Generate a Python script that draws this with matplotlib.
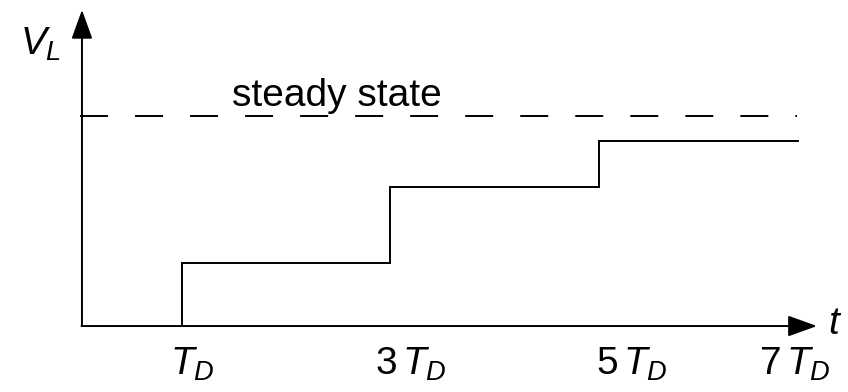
import matplotlib
matplotlib.use('Agg')
import matplotlib.pyplot as plt

plt.rcParams['font.family'] = ['Liberation Sans', 'DejaVu Sans']
plt.rcParams['mathtext.fontset'] = 'custom'
plt.rcParams['mathtext.rm'] = 'Liberation Sans'
plt.rcParams['mathtext.it'] = 'Liberation Sans:italic'

# step response of V_L, time in units of T_D, voltage relative to steady state
step_t = [1, 1, 3, 5, 6.91]
step_v = [0, 0.30, 0.66, 0.88, 0.88]
steady_v = 1.0
tick_pos = [1, 3, 5, 7]
tick_labels = ['$T_D$', r'$3\,T_D$', r'$5\,T_D$', r'$7\,T_D$']
label_nudge = [0.1, 0.2, 0.32, -0.12]

LW = 1.4
FS = 28

fig = plt.figure(figsize=(8.48, 3.92), dpi=100)
ax = fig.add_axes([0, 0, 1, 1])
ax.set_xlim(-0.7466, 7.392)
ax.set_ylim(-0.314, 1.552)
ax.axis('off')

x0 = 0.04
arrow = dict(arrowstyle='-|>,head_length=1.8,head_width=0.65', mutation_scale=10,
             lw=LW, color='black', shrinkA=0, shrinkB=0)
ax.annotate('', xy=(x0, 1.505), xytext=(x0, 0), arrowprops=arrow)
ax.annotate('', xy=(7.094, 0), xytext=(x0 - 0.005, 0), arrowprops=arrow)

# steady state level (dashes get scaled by the line width)
ax.plot([0.02, 6.9], [steady_v, steady_v], color='black', lw=LW,
        dashes=[14.4, 13.9], dash_capstyle='butt')
ax.text(1.48, steady_v + 0.048, 'steady state', fontsize=FS, ha='left', va='baseline')

# staircase
ax.plot(step_t, step_v, drawstyle='steps-post', color='black', lw=LW,
        solid_joinstyle='miter')

for p, lab, dx in zip(tick_pos, tick_labels, label_nudge):
    ax.text(p + dx, -0.233, lab, fontsize=FS, ha='center', va='baseline')

ax.text(-0.55, 1.29, '$V_L$', fontsize=FS, ha='left', va='baseline')
ax.text(7.2, -0.04, '$t$', fontsize=FS, ha='left', va='baseline')

fig.savefig('out.png', dpi=100)
